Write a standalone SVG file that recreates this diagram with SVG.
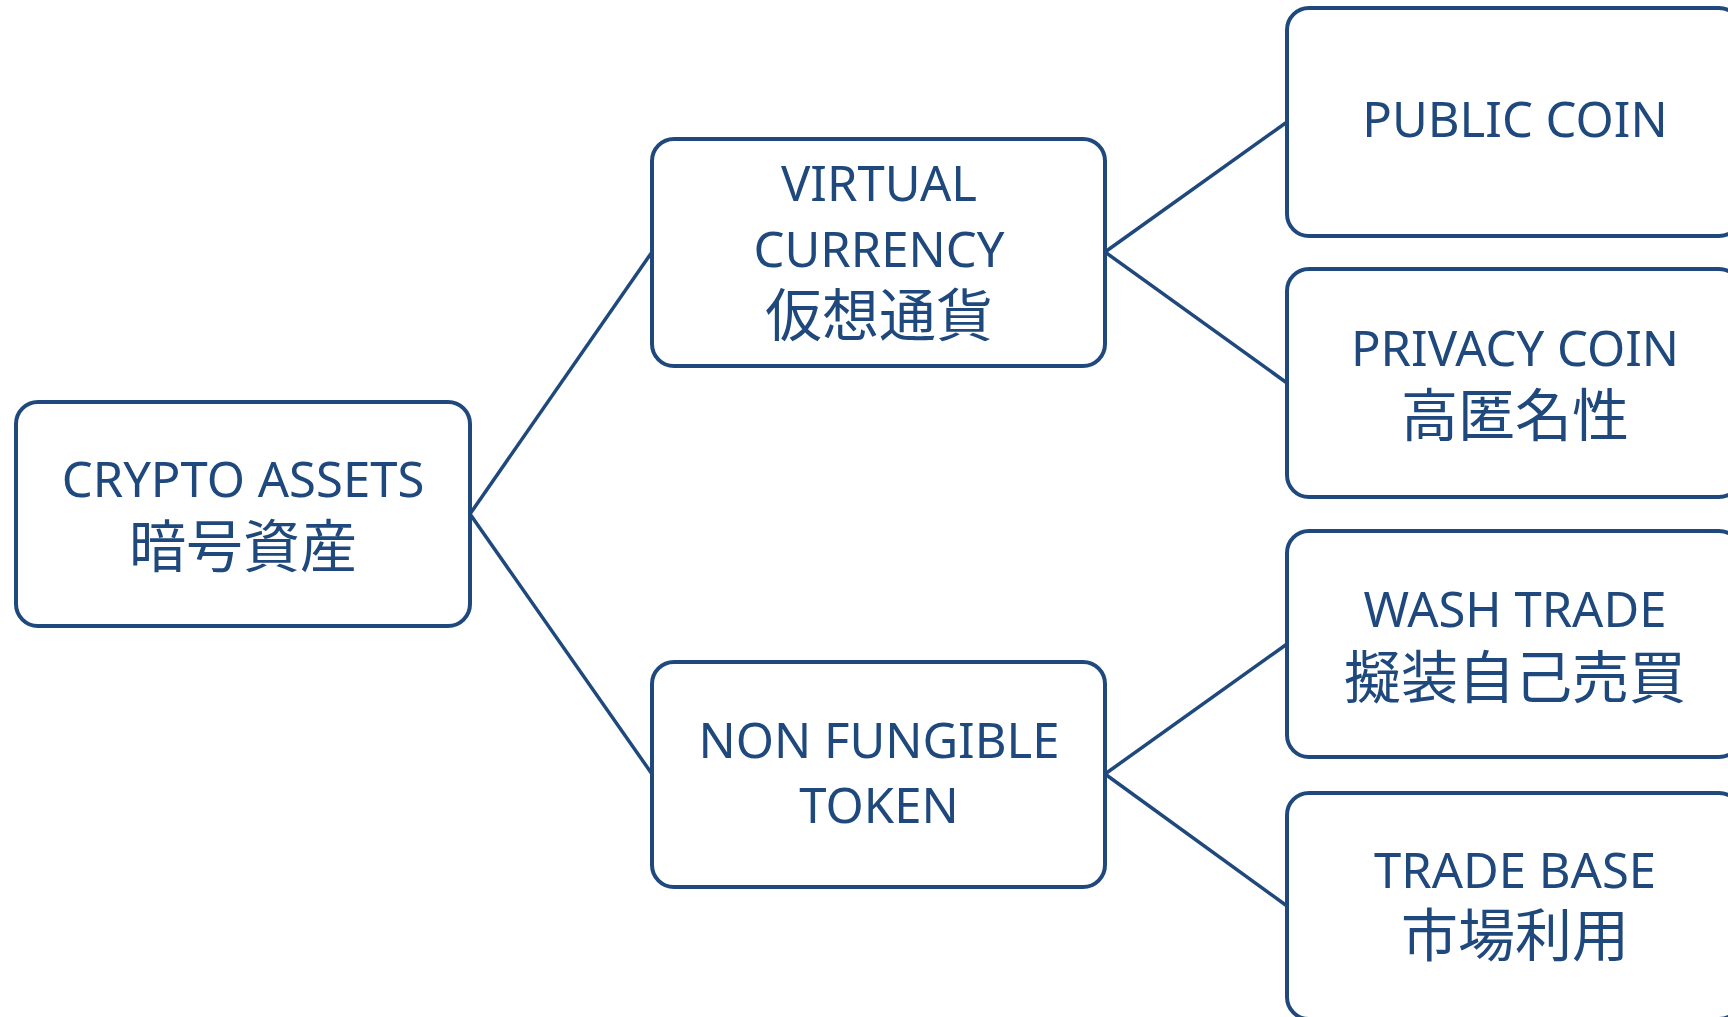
<svg xmlns="http://www.w3.org/2000/svg" width="1728" height="1017" viewBox="0 0 1728 1017">
<style>
.box{fill:#ffffff;stroke:#1F497D;stroke-width:4}
.lat{font-family:"Noto Sans","Open Sans",sans-serif;font-size:49px;fill:#1F497D;text-anchor:middle}
.cjk{font-family:"Noto Sans CJK JP","Noto Sans",sans-serif;font-size:57px;fill:#1F497D;text-anchor:middle}
.conn line{stroke:#1F497D;stroke-width:3.5;fill:none}
</style>
<rect width="1728" height="1017" fill="#ffffff"/>
<g id="connectors" class="conn">
<line x1="470" y1="514" x2="652" y2="252"/>
<line x1="470" y1="514" x2="652" y2="774"/>
<line x1="1105" y1="252" x2="1287" y2="122"/>
<line x1="1105" y1="252" x2="1287" y2="383"/>
<line x1="1105" y1="774" x2="1287" y2="644"/>
<line x1="1105" y1="774" x2="1287" y2="906"/>
</g>
<g id="crypto-assets">
<rect class="box" x="16" y="402" width="454" height="224" rx="22"/>
<text class="lat" x="243" y="497">CRYPTO ASSETS</text>
<text class="cjk" x="243" y="567">暗号資産</text>
</g>
<g id="virtual-currency">
<rect class="box" x="652" y="139" width="453" height="227" rx="22"/>
<text class="lat" x="879" y="201">VIRTUAL</text>
<text class="lat" x="879" y="267">CURRENCY</text>
<text class="cjk" x="879" y="336">仮想通貨</text>
</g>
<g id="non-fungible-token">
<rect class="box" x="652" y="662" width="453" height="225" rx="22"/>
<text class="lat" x="879" y="758">NON FUNGIBLE</text>
<text class="lat" x="879" y="823">TOKEN</text>
</g>
<g id="public-coin">
<rect class="box" x="1287" y="8" width="454" height="228" rx="22"/>
<text class="lat" x="1515" y="137">PUBLIC COIN</text>
</g>
<g id="privacy-coin">
<rect class="box" x="1287" y="269" width="454" height="228" rx="22"/>
<text class="lat" x="1515" y="366">PRIVACY COIN</text>
<text class="cjk" x="1515" y="436">高匿名性</text>
</g>
<g id="wash-trade">
<rect class="box" x="1287" y="531" width="454" height="226" rx="22"/>
<text class="lat" x="1515" y="627">WASH TRADE</text>
<text class="cjk" x="1515" y="698">擬装自己売買</text>
</g>
<g id="trade-base">
<rect class="box" x="1287" y="793" width="454" height="226" rx="22"/>
<text class="lat" x="1515" y="888">TRADE BASE</text>
<text class="cjk" x="1515" y="956">市場利用</text>
</g>
</svg>
